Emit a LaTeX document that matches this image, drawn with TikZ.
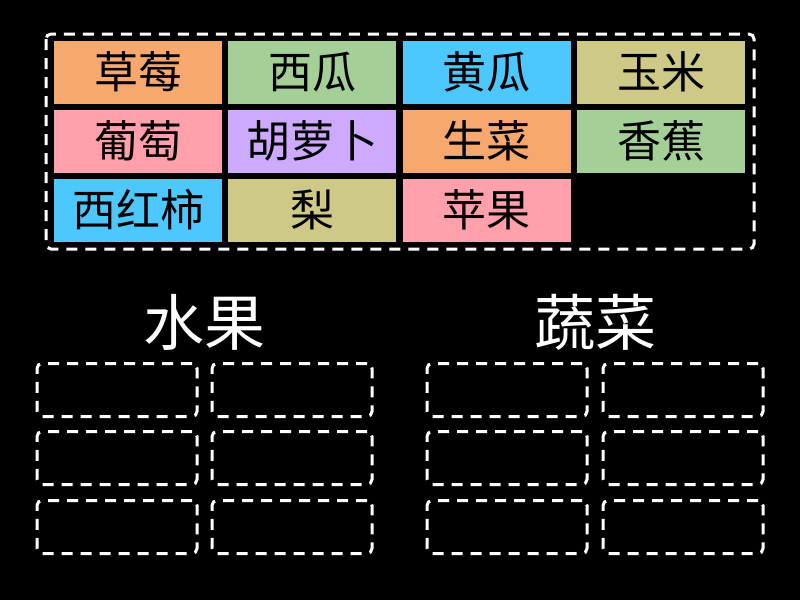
\documentclass[tikz,border=0pt]{standalone}
\usepackage{fontspec}
\newfontfamily\cjk{Noto Sans CJK SC}
\definecolor{tileorange}{RGB}{246,168,110}
\definecolor{tilegreen}{RGB}{164,208,152}
\definecolor{tileblue}{RGB}{76,200,255}
\definecolor{tileolive}{RGB}{206,201,134}
\definecolor{tilepink}{RGB}{255,160,172}
\definecolor{tilepurple}{RGB}{206,170,255}
\tikzset{
  tile/.style={rectangle, minimum width=168pt, minimum height=63pt, inner sep=0pt, text=black, font=\cjk\fontsize{44}{48}\selectfont},
  slot/.style={rectangle, rounded corners=5pt, draw=white, line width=3pt, dash pattern=on 11pt off 8pt, minimum width=160pt, minimum height=53pt, inner sep=0pt},
  heading/.style={text=white, font=\cjk\fontsize{61}{64}\selectfont, inner sep=0pt}
}
\begin{document}
\begin{tikzpicture}[x=1pt, y=-1pt]
\fill[black] (0,0) rectangle (800,600);
\useasboundingbox (0,0) rectangle (800,600);

\draw[white, line width=3pt, rounded corners=5pt, dash pattern=on 11pt off 8pt] (46,34) rectangle (754,249);

\node[tile, fill=tileorange] (t1) at (138,72) {草莓};
\node[tile, fill=tilegreen] (t2) at (312,72) {西瓜};
\node[tile, fill=tileblue] (t3) at (486.5,72) {黄瓜};
\node[tile, fill=tileolive] (t4) at (661,72) {玉米};

\node[tile, fill=tilepink] (t5) at (138,141) {葡萄};
\node[tile, fill=tilepurple] (t6) at (312,141) {胡萝卜};
\node[tile, fill=tileorange] (t7) at (486.5,141) {生菜};
\node[tile, fill=tilegreen] (t8) at (661,141) {香蕉};

\node[tile, fill=tileblue] (t9) at (138,210) {西红柿};
\node[tile, fill=tileolive] (t10) at (312,210) {梨};
\node[tile, fill=tilepink] (t11) at (486.5,210) {苹果};

\node[heading] (fruit) at (204,322) {水果};
\node[heading] (veg) at (595,322) {蔬菜};

\foreach \r/\y in {1/390, 2/458, 3/527} {
  \node[slot] (f\r a) at (117,\y) {};
  \node[slot] (f\r b) at (292,\y) {};
  \node[slot] (v\r a) at (507,\y) {};
  \node[slot] (v\r b) at (683,\y) {};
}

\end{tikzpicture}
\end{document}
